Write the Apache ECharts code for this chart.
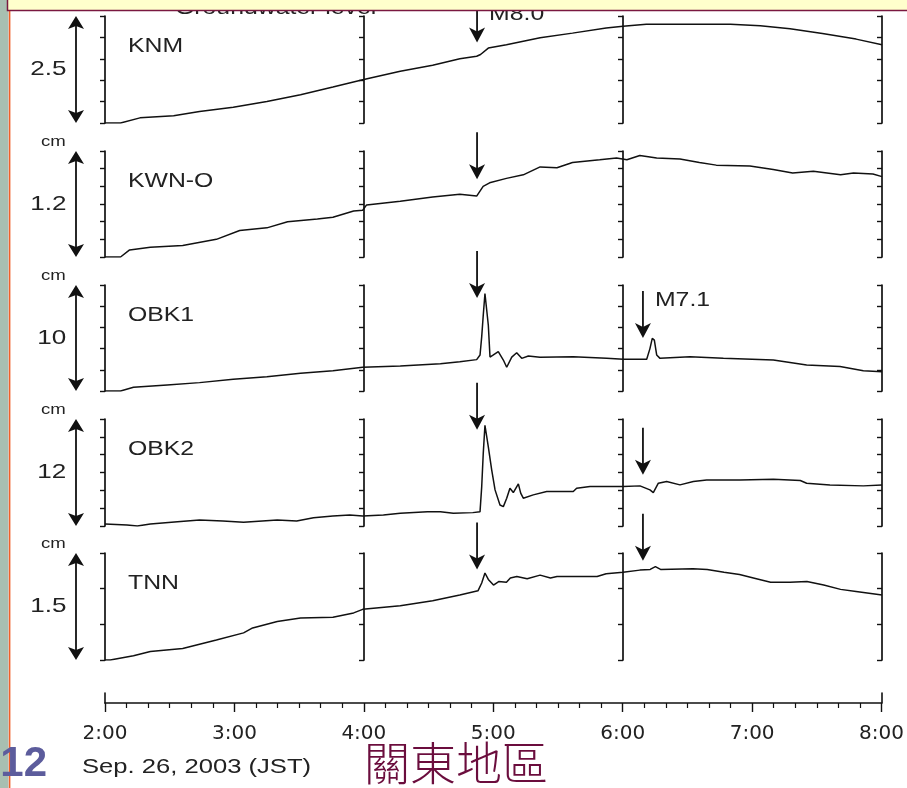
<!DOCTYPE html>
<html><head><meta charset="utf-8">
<script src="https://cdn.jsdelivr.net/npm/echarts@6/dist/echarts.min.js"></script>
<style>html,body{margin:0;padding:0;background:#fff;overflow:hidden}#c{width:907px;height:788px}</style>
</head><body><div id="c"></div>
<script>
// ---- data (hours since midnight JST, water level in cm relative to panel bottom) ----
const stations = ['KNM', 'KWN-O', 'OBK1', 'OBK2', 'TNN'];
const scaleLabels = ['2.5', '1.2', '10', '12', '1.5'];
const ranges = [2.5, 1.2, 10, 12, 1.5];
const steps = [0.5, 0.2, 2, 2, 0.5];
const hourTicks = ['2:00', '3:00', '4:00', '5:00', '6:00', '7:00', '8:00'];
const dateLabel = 'Sep. 26, 2003 (JST)';
const titleText = 'Groundwater level';

const knm = [[2.00,0],[2.12,0],[2.27,0.12],[2.53,0.17],[2.73,0.27],[2.99,0.37],[3.25,0.50],[3.51,0.66],[3.76,0.84],[3.99,1.01],[4.28,1.21],[4.53,1.35],[4.74,1.50],[4.87,1.56],[4.90,1.60],[4.96,1.75],[5.10,1.83],[5.36,1.99],[5.61,2.10],[5.87,2.22],[6.00,2.26],[6.18,2.31],[6.83,2.31],[7.06,2.27],[7.29,2.20],[7.54,2.09],[7.80,1.96],[8.00,1.83]];
const kwno = [[2.00,0],[2.12,0],[2.19,0.08],[2.35,0.11],[2.60,0.13],[2.86,0.20],[3.04,0.30],[3.25,0.33],[3.41,0.40],[3.64,0.43],[3.76,0.45],[3.92,0.52],[3.99,0.53],[4.02,0.59],[4.28,0.63],[4.53,0.68],[4.74,0.71],[4.87,0.69],[4.92,0.80],[4.97,0.84],[5.10,0.89],[5.23,0.93],[5.36,1.02],[5.49,1.01],[5.61,1.07],[5.82,1.10],[5.95,1.12],[6.03,1.10],[6.13,1.15],[6.26,1.12],[6.44,1.11],[6.59,1.07],[6.72,1.04],[6.98,1.03],[7.16,0.99],[7.31,0.95],[7.47,0.97],[7.68,0.93],[7.78,0.95],[7.93,0.94],[8.00,0.91]];
const obk1 = [[2.00,0],[2.12,0],[2.22,0.35],[2.48,0.57],[2.73,0.79],[2.99,1.10],[3.25,1.35],[3.51,1.67],[3.76,1.92],[3.99,2.24],[4.28,2.36],[4.59,2.58],[4.74,2.76],[4.870,2.96],[4.896,3.4],[4.909,5.13],[4.921,7.17],[4.934,9.2],[4.947,9.2],[4.960,6.2],[4.973,3.2],[4.999,3.4],[5.037,3.71],[5.076,2.92],[5.102,2.24],[5.141,3.2],[5.179,3.61],[5.218,3.08],[5.269,3.30],[5.359,3.18],[5.616,3.24],[5.874,3.08],[6.002,2.99],[6.183,2.99],[6.208,4.0],[6.226,4.97],[6.242,4.8],[6.260,3.4],[6.286,3.08],[6.517,3.24],[6.775,3.08],[7.161,2.92],[7.418,2.45],[7.676,2.32],[7.856,1.92],[8.000,1.82]];
const obk2 = [[2.00,0.22],[2.17,0.11],[2.25,0],[2.35,0.22],[2.56,0.48],[2.73,0.67],[2.91,0.56],[3.07,0.41],[3.33,0.67],[3.48,0.56],[3.61,0.93],[3.76,1.12],[3.89,1.24],[3.99,1.12],[4.15,1.24],[4.28,1.43],[4.49,1.61],[4.59,1.61],[4.69,1.43],[4.84,1.50],[4.896,1.61],[4.909,4.42],[4.921,8.17],[4.934,11.3],[4.947,11.1],[4.960,8.88],[4.986,6.3],[5.012,4.05],[5.050,2.36],[5.076,2.17],[5.102,3.12],[5.127,4.24],[5.153,3.75],[5.192,4.72],[5.210,3.68],[5.230,3.12],[5.307,3.49],[5.411,3.86],[5.616,3.86],[5.642,4.24],[5.745,4.42],[6.002,4.42],[6.131,4.5],[6.208,4.05],[6.234,3.75],[6.273,4.8],[6.337,4.99],[6.440,4.61],[6.543,4.99],[6.646,5.17],[6.903,5.17],[7.161,5.25],[7.369,5.1],[7.418,4.8],[7.598,4.61],[7.856,4.5],[8.000,4.61]];
const tnn = [[2.00,0],[2.04,0],[2.22,0.06],[2.35,0.12],[2.60,0.16],[2.86,0.28],[3.07,0.38],[3.14,0.45],[3.33,0.54],[3.51,0.59],[3.76,0.60],[3.92,0.66],[3.99,0.71],[4.28,0.76],[4.53,0.83],[4.74,0.91],[4.88,0.97],[4.909,1.08],[4.934,1.22],[4.96,1.13],[5.00,1.05],[5.04,1.10],[5.10,1.09],[5.13,1.15],[5.18,1.17],[5.26,1.14],[5.36,1.19],[5.44,1.15],[5.49,1.17],[5.80,1.17],[5.87,1.21],[6.00,1.23],[6.13,1.26],[6.21,1.27],[6.25,1.31],[6.29,1.27],[6.54,1.28],[6.65,1.27],[6.78,1.23],[6.90,1.20],[7.03,1.14],[7.14,1.09],[7.29,1.09],[7.42,1.10],[7.55,1.05],[7.68,0.99],[7.80,0.96],[8.00,0.91]];
const seriesData = [knm, kwno, obk1, obk2, tnn];

// earthquakes: origin-time marker positions and arrow tip level (cm) per panel
const quakeNames = ['M8.0', 'M7.1'];
const quakeTimes = [4.873, 6.154];
const quakeTips = [[1.88, null], [0.88, null], [8.77, 5.0], [10.8, 5.74], [1.27, 1.39]];
const quakeLabelPanel = [0, 2];

// ---- layout ----
const TOPS = [16, 151, 285, 419, 553];
const HEIGHTS = [107, 106, 106, 107, 107];
const GL = 105, GR = 25, GW = 907 - GL - GR;
const bracketHours = [2, 4, 6, 8];
const quakeLabelDy = [-28, -38];
const INK = '#111';

const chart = echarts.init(document.getElementById('c'));

const grid = TOPS.map((t, i) => ({ left: GL, right: GR, top: t, height: HEIGHTS[i] }));
grid.push({ left: GL, right: GR, top: 693, height: 10 });

const xAxis = grid.map((g, i) => ({
  gridIndex: i, type: 'value', min: 2, max: 8, interval: 1,
  show: i === 5,
  axisLine: { show: true, onZero: false, lineStyle: { color: INK, width: 1.6 } },
  axisTick: { show: true, length: 9, lineStyle: { color: INK, width: 1.4 } },
  minorTick: { show: true, splitNumber: 6, length: 5, lineStyle: { color: INK, width: 1.2 } },
  splitLine: { show: false },
  axisLabel: { show: true, margin: 21, color: '#222', fontFamily: 'DejaVu Sans', fontSize: 20,
    formatter: v => hourTicks[Math.round(v - 2)] }
}));

const yAxis = [];
stations.forEach((s, i) => {
  bracketHours.forEach(b => {
    yAxis.push({
      gridIndex: i, type: 'value', min: 0, max: ranges[i], interval: steps[i],
      position: 'left', offset: -(b - 2) / 6 * GW,
      axisLine: { show: true, lineStyle: { color: INK, width: 1.7 } },
      axisTick: { show: true, length: 5, lineStyle: { color: INK, width: 1.4 } },
      axisLabel: { show: false }, splitLine: { show: false }
    });
  });
});
['left', 'right'].forEach(p => yAxis.push({
  gridIndex: 5, type: 'value', min: 0, max: 1, position: p,
  axisLine: { show: true, lineStyle: { color: INK, width: 1.6 } },
  axisTick: { show: false }, axisLabel: { show: false }, splitLine: { show: false }
}));

const series = seriesData.map((d, i) => ({
  type: 'line', name: stations[i], xAxisIndex: i, yAxisIndex: i * 4,
  data: d, showSymbol: false, symbol: 'none', animation: false,
  lineStyle: { color: INK, width: 1.5 }
}));

chart.setOption({ animation: false, backgroundColor: '#fff', grid, xAxis, yAxis, series });

// ---- annotations placed through the axes' own scales ----
const SX = 1.24;
const g = [];
function txt(x, y, s, size, opts) {
  g.push(Object.assign({ type: 'text', x, y, scaleX: SX, z: 50,
    style: { text: s, fill: '#222', font: size + 'px "Liberation Sans", Arial, sans-serif',
      textAlign: 'left', textVerticalAlign: 'middle' } }, opts || {}));
}
function px(i, t, v) { return chart.convertToPixel({ xAxisIndex: i, yAxisIndex: i * 4 }, [t, v]); }

stations.forEach((name, i) => {
  const top = px(i, 2, ranges[i])[1], bot = px(i, 2, 0)[1];
  const ax = 76;
  g.push({ type: 'line', z: 50, shape: { x1: ax, y1: top + 6, x2: ax, y2: bot - 6 }, style: { stroke: INK, lineWidth: 1.8 } });
  g.push({ type: 'polygon', z: 50, shape: { points: [[ax - 8, top + 13], [ax, top], [ax + 8, top + 13], [ax, top + 10]] }, style: { fill: INK } });
  g.push({ type: 'polygon', z: 50, shape: { points: [[ax - 8, bot - 13], [ax, bot], [ax + 8, bot - 13], [ax, bot - 10]] }, style: { fill: INK } });
  txt(51 - scaleLabels[i].length * 6.9, (top + bot) / 2, scaleLabels[i], 21);
  txt(41, top - 9, 'cm', 15);
  txt(128, top + 30, name, 20);
  quakeTips[i].forEach((tip, q) => {
    if (tip === null) return;
    const p = px(i, quakeTimes[q], tip);
    const x = p[0], y = p[1];
    g.push({ type: 'line', z: 50, shape: { x1: x, y1: y - 47, x2: x, y2: y - 8 }, style: { stroke: INK, lineWidth: 1.8 } });
    g.push({ type: 'polygon', z: 50, shape: { points: [[x - 8, y - 15], [x, y], [x + 8, y - 15], [x, y - 11]] }, style: { fill: INK } });
    if (quakeLabelPanel[q] === i) txt(x + 12, y + quakeLabelDy[q], quakeNames[q], 20);
  });
});

txt(175, 8, titleText, 20);
txt(82, 767, dateLabel, 20, { scaleX: 1.28 });

// slide chrome
g.push({ type: 'rect', z: 5, shape: { x: 0, y: 0, width: 8.5, height: 788 }, style: { fill: '#a8bfb1' } });
g.push({ type: 'line', z: 6, shape: { x1: 9.6, y1: 0, x2: 9.6, y2: 788 }, style: { stroke: '#f0602a', lineWidth: 1.6 } });
g.push({ type: 'rect', z: 200, shape: { x: 7.5, y: -3, width: 910, height: 13.5 }, style: { fill: '#ffffcc', stroke: '#7a1840', lineWidth: 1.5 } });
g.push({ type: 'text', z: 60, x: 47, y: 764, style: { text: '12', fill: '#5c5c9c',
  font: 'bold 42px "Liberation Sans Narrow", "Liberation Sans", sans-serif', textAlign: 'right', textVerticalAlign: 'middle' } });
g.push({ type: 'text', z: 60, x: 364, y: 763, style: { text: '關東地區', fill: '#6b0d3d',
  font: '300 46px "Noto Sans CJK TC", sans-serif', textAlign: 'left', textVerticalAlign: 'middle' } });

chart.setOption({ graphic: { elements: g } });
</script></body></html>
